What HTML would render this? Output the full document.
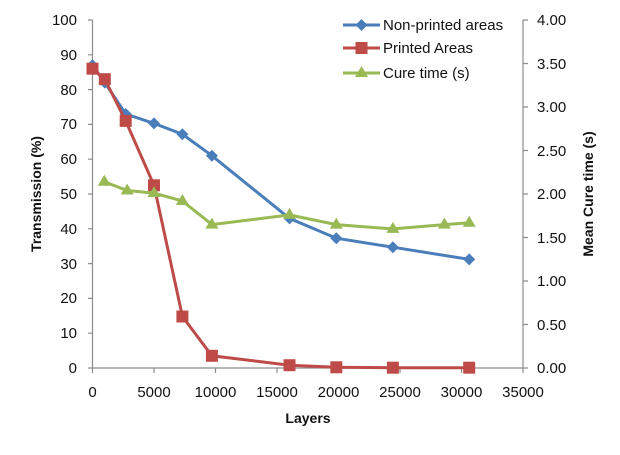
<!DOCTYPE html>
<html><head><meta charset="utf-8"><style>
html,body{margin:0;padding:0;background:#fff;}
svg text{font-family:"Liberation Sans",sans-serif;fill:#111;}
</style></head><body>
<svg width="620" height="450" xmlns="http://www.w3.org/2000/svg">
<g stroke="#8c8c8c" stroke-width="1.2" fill="none">
<line x1="92.5" y1="20" x2="92.5" y2="368"/>
<line x1="523" y1="20" x2="523" y2="368"/>
<line x1="92.5" y1="368" x2="523" y2="368"/>
<path d="M88 20H92.5M88 54.8H92.5M88 89.6H92.5M88 124.4H92.5M88 159.2H92.5M88 194H92.5M88 228.8H92.5M88 263.6H92.5M88 298.4H92.5M88 333.2H92.5M88 368H92.5"/>
<path d="M523 20H528M523 63.5H528M523 107H528M523 150.5H528M523 194H528M523 237.5H528M523 281H528M523 324.5H528M523 368H528"/>
<path d="M92.5 368V373M154 368V373M215.5 368V373M277 368V373M338.5 368V373M400 368V373M461.5 368V373M523 368V373"/>
</g>
<g font-size="15" text-anchor="end">
<text x="77" y="25">100</text><text x="77" y="60">90</text><text x="77" y="95">80</text><text x="77" y="129">70</text><text x="77" y="164">60</text><text x="77" y="199">50</text><text x="77" y="234">40</text><text x="77" y="269">30</text><text x="77" y="303">20</text><text x="77" y="338">10</text><text x="77" y="373">0</text>
</g>
<g font-size="15" text-anchor="start">
<text x="537" y="25">4.00</text><text x="537" y="69">3.50</text><text x="537" y="112">3.00</text><text x="537" y="156">2.50</text><text x="537" y="199">2.00</text><text x="537" y="243">1.50</text><text x="537" y="286">1.00</text><text x="537" y="330">0.50</text><text x="537" y="373">0.00</text>
</g>
<g font-size="15" text-anchor="middle">
<text x="92.5" y="397">0</text><text x="154" y="397">5000</text><text x="215.5" y="397">10000</text><text x="277" y="397">15000</text><text x="338.5" y="397">20000</text><text x="400" y="397">25000</text><text x="461.5" y="397">30000</text><text x="523" y="397">35000</text>
</g>
<text x="308" y="423" font-size="14" font-weight="bold" text-anchor="middle">Layers</text>
<text transform="translate(41,194) rotate(-90)" font-size="14" font-weight="bold" text-anchor="middle">Transmission (%)</text>
<text transform="translate(593,194) rotate(-90)" font-size="14" font-weight="bold" text-anchor="middle">Mean Cure time (s)</text>

<!-- Blue -->
<polyline fill="none" stroke="#4a7ebb" stroke-width="3" points="92.5,65.2 104.8,82.6 125.7,114 154,123.4 182.4,134.2 211.9,155.7 289.5,218.4 336.3,238.2 392.9,247.2 469.2,259.4"/>
<g fill="#4a7ebb">
<path d="M92.5 59.2l6 6-6 6-6-6z"/><path d="M104.8 76.6l6 6-6 6-6-6z"/><path d="M125.7 108l6 6-6 6-6-6z"/><path d="M154 117.4l6 6-6 6-6-6z"/><path d="M182.4 128.2l6 6-6 6-6-6z"/><path d="M211.9 149.7l6 6-6 6-6-6z"/><path d="M289.5 212.4l6 6-6 6-6-6z"/><path d="M336.3 232.2l6 6-6 6-6-6z"/><path d="M392.9 241.2l6 6-6 6-6-6z"/><path d="M469.2 253.4l6 6-6 6-6-6z"/>
</g>
<!-- Red -->
<polyline fill="none" stroke="#be4b48" stroke-width="3" points="92.5,68.7 104.8,79.2 125.7,120.9 154,185.3 182.4,316.5 211.9,355.8 289.5,365.2 336.3,367.3 392.9,367.7 469.2,367.7"/>
<g fill="#be4b48">
<rect x="86.5" y="62.7" width="12" height="12"/><rect x="98.8" y="73.2" width="12" height="12"/><rect x="119.7" y="114.9" width="12" height="12"/><rect x="148" y="179.3" width="12" height="12"/><rect x="176.4" y="310.5" width="12" height="12"/><rect x="205.9" y="349.8" width="12" height="12"/><rect x="283.5" y="359.2" width="12" height="12"/><rect x="330.3" y="361.3" width="12" height="12"/><rect x="386.9" y="361.7" width="12" height="12"/><rect x="463.2" y="361.7" width="12" height="12"/>
</g>
<!-- Green -->
<polyline fill="none" stroke="#98b954" stroke-width="3" points="104.3,181.8 127.2,190.5 154,193.1 182.4,201 211.9,224.6 289.5,214.9 336.3,224.6 392.9,228.9 444.4,224.6 469.2,222.8"/>
<g fill="#98b954">
<path d="M104.3 174.8l6.5 11h-13z"/><path d="M127.2 183.5l6.5 11h-13z"/><path d="M154 186.1l6.5 11h-13z"/><path d="M182.4 194l6.5 11h-13z"/><path d="M211.9 217.6l6.5 11h-13z"/><path d="M289.5 207.9l6.5 11h-13z"/><path d="M336.3 217.6l6.5 11h-13z"/><path d="M392.9 221.9l6.5 11h-13z"/><path d="M444.4 217.6l6.5 11h-13z"/><path d="M469.2 215.8l6.5 11h-13z"/>
</g>
<!-- Legend -->
<line x1="343" y1="25" x2="380" y2="25" stroke="#4a7ebb" stroke-width="3"/><path d="M361.5 19l6 6-6 6-6-6z" fill="#4a7ebb"/>
<text x="383" y="30" font-size="15">Non-printed areas</text>
<line x1="343" y1="48" x2="380" y2="48" stroke="#be4b48" stroke-width="3"/><rect x="355.5" y="42" width="12" height="12" fill="#be4b48"/>
<text x="383" y="53" font-size="15">Printed Areas</text>
<line x1="343" y1="73" x2="380" y2="73" stroke="#98b954" stroke-width="3"/><path d="M361.5 66l6.5 11h-13z" fill="#98b954"/>
<text x="383" y="78" font-size="15">Cure time (s)</text>
</svg>
</body></html>
